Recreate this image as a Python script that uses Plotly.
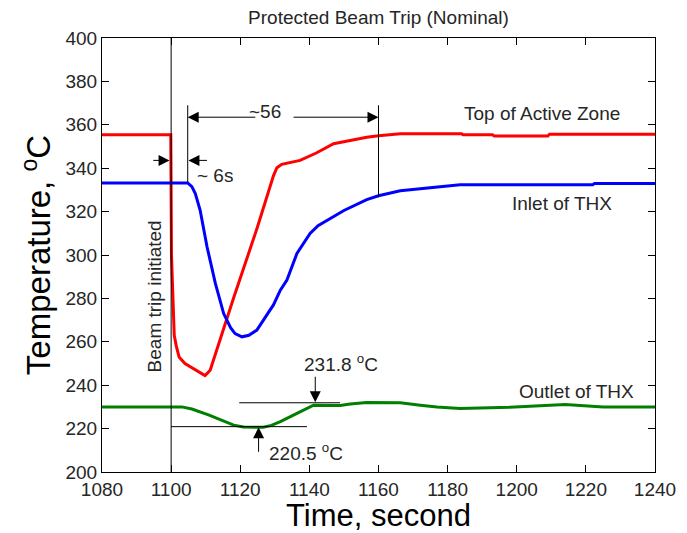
import plotly.graph_objects as go

# ---------------- data ----------------
top_t = [1080, 1099.9, 1100.1, 1100.5, 1100.9, 1101.5, 1102.3, 1104, 1106, 1108, 1109.8,
         1111.3, 1118, 1125, 1129.6, 1130.6, 1132, 1137.3, 1142, 1147, 1152, 1156.6, 1160,
         1166.3, 1184, 1184.5, 1193, 1193.5, 1209, 1209.5, 1240]
top_T = [355.4, 355.4, 300, 275, 263, 258, 253, 250, 248, 246.3, 244.4,
         246.9, 279.8, 313, 336.5, 340.2, 341.8, 343.6, 347, 351.3, 353, 354.3, 355,
         355.9, 355.9, 355.4, 355.4, 354.8, 354.8, 355.7, 355.7]

inlet_t = [1080, 1104.8, 1106, 1107, 1108.4, 1110.4, 1112.8, 1115.2, 1117.2, 1118.5, 1120.5,
           1122.5, 1124.8, 1126.7, 1129.6, 1131.6, 1133.5, 1136.4, 1138.5, 1140.2, 1142.5,
           1145.1, 1150, 1156.6, 1160, 1166.3, 1175.9, 1183.6, 1222, 1222.5, 1240]
inlet_T = [333.2, 333.2, 331.5, 328.3, 320.6, 303.7, 286.9, 273.0, 266.5, 263.8, 262.3,
           263, 265.4, 270, 277, 283.8, 288.5, 300.7, 306, 309.9, 313.5,
           316.0, 320.5, 325.5, 327.3, 329.6, 331.3, 332.4, 332.4, 333, 333]

outlet_t = [1080, 1103.1, 1106, 1108.4, 1111, 1113.3, 1116, 1118.1, 1120.9, 1126.7, 1129,
            1131.6, 1136.4, 1139, 1141.2, 1148.9, 1151.8, 1156.6, 1166.3, 1172.1, 1176.9,
            1183.6, 1198, 1214, 1225, 1240]
outlet_T = [230, 230, 229, 227.8, 226.2, 224.7, 222.8, 221.6, 220.7, 220.6, 221.5,
            223.2, 227.0, 229, 230.8, 230.6, 231.3, 232.0, 231.9, 230.8, 230.0,
            229.3, 229.8, 231.1, 230.0, 230.0]

x_ticks = [1080, 1100, 1120, 1140, 1160, 1180, 1200, 1220, 1240]
y_ticks = [200, 220, 240, 260, 280, 300, 320, 340, 360, 380, 400]

# annotation values (time, temperature)
trip_time = 1100
response_time = 1104.8
recovery_time = 1160
bracket_T = 363.5
delay_arrow_T = 343.6
outlet_max = 231.8
outlet_min = 220.5

FONT = "Arial, Liberation Sans, sans-serif"
TXT = "#262626"

fig = go.Figure()
fig.add_trace(go.Scatter(x=top_t, y=top_T, mode="lines",
                         line=dict(color="#ff0000", width=3), name="Top of Active Zone"))
fig.add_trace(go.Scatter(x=inlet_t, y=inlet_T, mode="lines",
                         line=dict(color="#0000ff", width=3), name="Inlet of THX"))
fig.add_trace(go.Scatter(x=outlet_t, y=outlet_T, mode="lines",
                         line=dict(color="#007f00", width=3), name="Outlet of THX"))

line_style = dict(color="black", width=1)
shapes = [
    dict(type="line", xref="x", yref="y", x0=trip_time, x1=trip_time, y0=200, y1=400, line=line_style),
    dict(type="line", xref="x", yref="y", x0=response_time, x1=response_time, y0=333.6, y1=369, line=line_style),
    dict(type="line", xref="x", yref="y", x0=recovery_time, x1=recovery_time, y0=326.6, y1=369, line=line_style),
    dict(type="line", xref="x", yref="y", x0=1119.7, x1=1148.9, y0=231.9, y1=231.9, line=line_style),
    dict(type="line", xref="x", yref="y", x0=1100, x1=1139.3, y0=220.9, y1=220.9, line=line_style),
]

def arrow(tip_x, tip_y, tail_x, tail_y):
    return dict(x=tip_x, y=tip_y, ax=tail_x, ay=tail_y, xref="x", yref="y",
                axref="x", ayref="y", text="", showarrow=True,
                arrowhead=2, arrowsize=2.2, arrowwidth=1, arrowcolor="black")

def label(x, y, text, angle=0):
    return dict(x=x, y=y, xref="x", yref="y", text=text, showarrow=False,
                textangle=angle, font=dict(family=FONT, size=19, color=TXT),
                xanchor="center", yanchor="middle")

annotations = [
    arrow(response_time, bracket_T, 1124.8, bracket_T),
    arrow(recovery_time, bracket_T, 1135, bracket_T),
    arrow(1099.55, delay_arrow_T, 1094.4, delay_arrow_T),
    arrow(1105.0, delay_arrow_T, 1110.8, delay_arrow_T),
    arrow(1141.7, 232.2, 1141.7, 244.6),
    arrow(1125.3, 220.6, 1125.3, 208.6),
    label(1127.2, 366.3, "~56"),
    label(1112.8, 336.8, "~ 6s"),
    label(1207.2, 365.2, "Top of Active Zone"),
    label(1213, 323.8, "Inlet of THX"),
    label(1217.4, 237.3, "Outlet of THX"),
    label(1095.1, 281, "Beam trip initiated", angle=-90),
    label(1149.2, 250.2, f"{outlet_max} <sup>o</sup>C"),
    label(1139, 209.2, f"{outlet_min} <sup>o</sup>C"),
]

axis_common = dict(showline=True, linecolor="black", linewidth=1, mirror="ticks",
                   ticks="inside", ticklen=7, tickcolor="black", showgrid=False,
                   zeroline=False, automargin=False,
                   tickfont=dict(family=FONT, size=19, color=TXT))

fig.update_layout(
    width=687, height=533,
    margin=dict(l=102, r=32, t=38, b=61),
    paper_bgcolor="white", plot_bgcolor="white",
    showlegend=False,
    title=dict(text="Protected Beam Trip (Nominal)", x=0.5, xref="paper",
               y=1 - 17 / 533, yref="container", xanchor="center", yanchor="middle",
               font=dict(family=FONT, size=19, color=TXT)),
    xaxis=dict(range=[1080, 1240], tickvals=x_ticks,
               title=dict(text="Time, second", font=dict(family=FONT, size=31, color="black"),
                          standoff=2),
               **axis_common),
    yaxis=dict(range=[200, 400], tickvals=y_ticks,
               title=dict(text="Temperature, <sup>o</sup>C",
                          font=dict(family=FONT, size=33, color="black"), standoff=4),
               **axis_common),
    shapes=shapes,
    annotations=annotations,
)

fig.write_html("out.html", config={"displayModeBar": False},
               post_script="document.body.style.margin='0';")
